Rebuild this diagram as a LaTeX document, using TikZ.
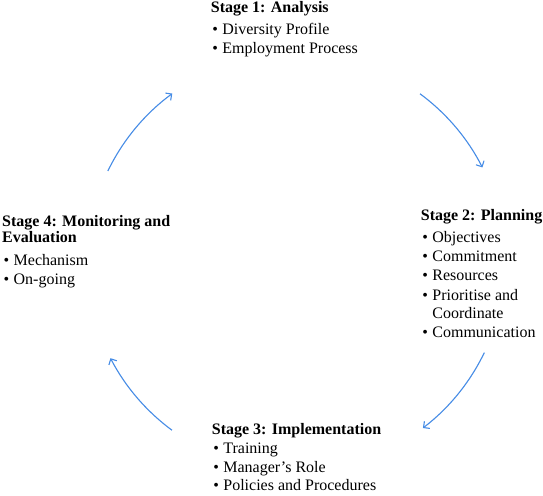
\documentclass[tikz,border=0pt]{standalone}
\usepackage{fontspec}
\setmainfont{Liberation Serif}
\usetikzlibrary{arrows.meta}
\definecolor{arrowblue}{RGB}{70,140,230}
\newcommand\bitem[1]{\makebox[11.5pt][l]{\hspace{1.5pt}\textbullet}#1}
\newcommand\bcont[1]{\makebox[11.5pt][l]{}#1}
\begin{document}
\begin{tikzpicture}[x=1pt,y=-1pt,
  stage/.style={anchor=base west,inner sep=0pt,font=\fontsize{16}{19.3}\selectfont},
  cyc/.style={draw=arrowblue,line width=1.1pt,-{Straight Barb[length=4.5pt,width=9pt,line width=1.1pt]}}]
\fill[white] (0,0) rectangle (543,495);
\useasboundingbox (0,0) rectangle (543,495);
\coordinate (c) at (296,262);
\node[stage] (s1) at (210.7,12.5) {\begin{tabular}[t]{@{}l@{}}\textbf{Stage 1: Analysis}\\[2.5pt]
  \bitem{Diversity Profile}\\ \bitem{Employment Process}\end{tabular}};
\node[stage] (s2) at (420.7,220.5) {\begin{tabular}[t]{@{}l@{}}\textbf{Stage 2: Planning}\\[2.5pt]
  \bitem{Objectives}\\ \bitem{Commitment}\\ \bitem{Resources}\\ \bitem{Prioritise and}\\[-1pt] \bcont{Coordinate}\\ \bitem{Communication}\end{tabular}};
\node[stage] (s3) at (211.7,434) {\begin{tabular}[t]{@{}l@{}}\textbf{Stage 3: Implementation}\\[0pt]
  \bitem{Training}\\[-0.5pt] \bitem{Manager’s Role}\\[-0.5pt] \bitem{Policies and Procedures}\end{tabular}};
\node[stage] (s4) at (2,226) {\begin{tabular}[t]{@{}l@{}}\textbf{Stage 4: Monitoring and}\\[-3pt] \textbf{Evaluation}\\[4pt]
  \bitem{Mechanism}\\ \bitem{On-going}\end{tabular}};
\draw[cyc] ([shift={(-154.2:209)}]c) arc[start angle=-154.2,end angle=-126.3,radius=209];
\draw[cyc] ([shift={(-53.6:209)}]c) arc[start angle=-53.6,end angle=-26.9,radius=209];
\draw[cyc] ([shift={(25.7:209)}]c) arc[start angle=25.7,end angle=52.6,radius=209];
\draw[cyc] ([shift={(126.4:209)}]c) arc[start angle=126.4,end angle=152.6,radius=209];
\end{tikzpicture}
\end{document}
